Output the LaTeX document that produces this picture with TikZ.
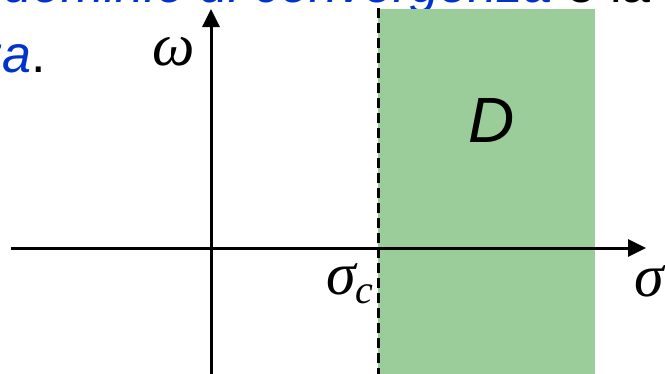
\documentclass[tikz,border=0pt]{standalone}
\usepackage{fontspec}
\setmainfont{Liberation Sans}
\newfontfamily\greekfont{Liberation Serif}
\usetikzlibrary{arrows.meta}
\definecolor{txtblue}{RGB}{0,51,204}
\definecolor{regiongreen}{RGB}{155,205,155}
\begin{document}
\begin{tikzpicture}[x=1pt,y=-1pt,
  axis/.style={line width=3pt,-{Triangle[length=18pt,width=17pt]}},
  boundary/.style={line width=3pt,dash pattern=on 10pt off 5pt},
  mathlbl/.style={inner sep=0pt,font=\fontsize{60}{60}\selectfont\greekfont\itshape},
  bigtext/.style={inner sep=0pt,font=\fontsize{52}{62}\selectfont},
  regionlbl/.style={inner sep=0pt,font=\fontsize{64}{64}\selectfont\itshape}]
\useasboundingbox (0,0) rectangle (665,373);
\clip (0,0) rectangle (665,373);
\node[bigtext,anchor=base west] (t1) at (3,2) {\textcolor{txtblue}{\itshape dominio di convergenza} e la};
\node[bigtext,anchor=base east] (t2) at (46,72) {\textcolor{txtblue}{\itshape za}.};
\fill[regiongreen] (378,9) rectangle (595,380);
\coordinate (xs) at (11,248);
\coordinate (xe) at (646,248);
\coordinate (ys) at (211,380);
\coordinate (ye) at (211,9);
\coordinate (bt) at (378,8);
\coordinate (bb) at (378,380);
\draw[axis] (xs) -- (xe);
\draw[axis] (ys) -- (ye);
\draw[boundary] (bt) -- (bb);
\node[mathlbl,anchor=base west] (w) at (152,65) {ω};
\node[mathlbl,anchor=base west] (sc) at (326,294) {σ\raisebox{-9pt}{\fontsize{40}{40}\selectfont c}};
\node[mathlbl,anchor=base west] (s) at (634,296) {σ};
\node[regionlbl] (D) at (492,120) {D};
\end{tikzpicture}
\end{document}
